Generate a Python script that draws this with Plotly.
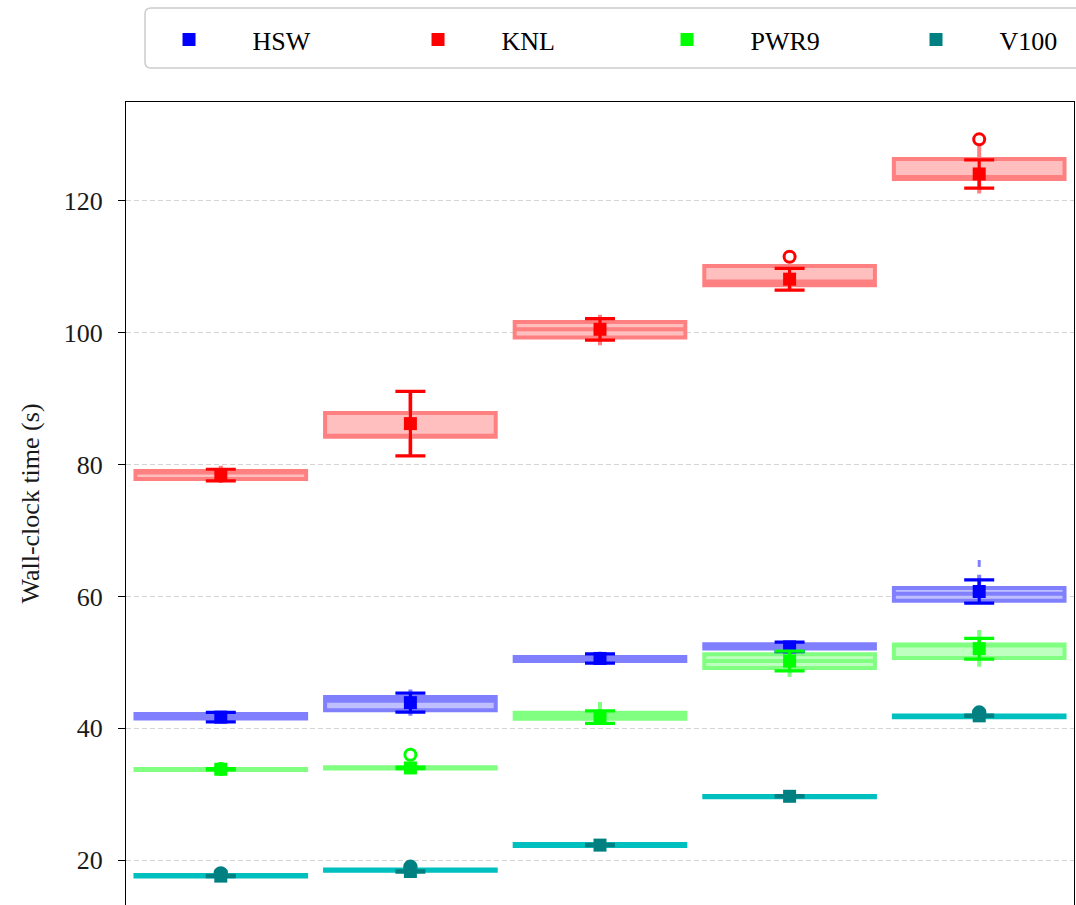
import plotly.graph_objects as go

# x positions of the five benchmark configurations
groups = [0, 1, 2, 3, 4]

# ---- HSW ----
hsw_q1 = [41.50, 42.75, 50.20, 52.10, 59.35]
hsw_med = [41.80, 44.20, 50.50, 52.40, 60.40]
hsw_q3 = [42.18, 44.76, 50.80, 52.75, 61.28]
hsw_lo = [41.10, 41.90, 49.90, 51.70, 58.90]
hsw_hi = [42.40, 45.90, 51.60, 53.10, 63.30]
hsw_mean = [41.70, 43.90, 50.60, 52.35, 60.75]
hsw_std = [0.72, 1.43, 0.70, 0.72, 1.77]
hsw_out_x = [4]
hsw_out_y = [65.0]

# ---- KNL ----
knl_q1 = [77.80, 84.20, 99.24, 107.17, 123.30]
knl_med = [78.80, 84.35, 100.50, 107.75, 123.60]
knl_q3 = [79.00, 87.80, 101.60, 110.10, 126.30]
knl_lo = [77.20, 81.50, 98.10, 106.50, 121.10]
knl_hi = [79.80, 91.00, 102.70, 110.10, 128.30]
knl_mean = [78.40, 86.20, 100.50, 108.10, 124.05]
knl_std = [0.88, 4.90, 1.63, 1.65, 2.15]
knl_out_x = [3, 4]
knl_out_y = [111.5, 129.3]

# ---- PWR9 ----
pwr9_q1 = [33.70, 33.90, 41.45, 49.15, 50.67]
pwr9_med = [33.78, 34.00, 41.90, 50.20, 52.60]
pwr9_q3 = [33.85, 34.10, 42.35, 51.24, 52.70]
pwr9_lo = [33.60, 33.80, 40.80, 47.80, 49.35]
pwr9_hi = [33.90, 34.20, 44.00, 51.70, 54.90]
pwr9_mean = [33.80, 34.00, 41.70, 50.20, 52.08]
pwr9_std = [0.10, 0.12, 0.95, 1.50, 1.57]
pwr9_out_x = [0, 1]
pwr9_out_y = [33.85, 36.0]

# ---- V100 ----
v100_q1 = [17.55, 18.40, 22.15, 29.55, 41.70]
v100_med = [17.65, 18.50, 22.30, 29.65, 41.83]
v100_q3 = [17.75, 18.60, 22.45, 29.75, 41.95]
v100_lo = [17.55, 18.40, 22.15, 29.55, 41.70]
v100_hi = [17.75, 18.60, 22.45, 29.75, 41.95]
v100_mean = [17.60, 18.30, 22.30, 29.70, 41.90]
v100_std = [0.10, 0.10, 0.10, 0.10, 0.10]
v100_out_x = [0, 1, 4]
v100_out_y = [18.0, 19.0, 42.4]

y_ticks = [20, 40, 60, 80, 100, 120]

FONT = "Liberation Serif"

series = [
    dict(name="HSW", color="#0000ff", edge="#8080ff", fill="#bfbfff",
         q1=hsw_q1, med=hsw_med, q3=hsw_q3, lo=hsw_lo, hi=hsw_hi,
         mean=hsw_mean, std=hsw_std, ox=hsw_out_x, oy=hsw_out_y,
         flier=dict(symbol="line-ns", size=5, color="#8080ff",
                    line=dict(color="#8080ff", width=3))),
    dict(name="KNL", color="#ff0000", edge="#ff8080", fill="#ffbfbf",
         q1=knl_q1, med=knl_med, q3=knl_q3, lo=knl_lo, hi=knl_hi,
         mean=knl_mean, std=knl_std, ox=knl_out_x, oy=knl_out_y,
         flier=dict(symbol="circle-open", size=11, color="#ff0000",
                    line=dict(color="#ff0000", width=3))),
    dict(name="PWR9", color="#00ff00", edge="#80ff80", fill="#bfffbf",
         q1=pwr9_q1, med=pwr9_med, q3=pwr9_q3, lo=pwr9_lo, hi=pwr9_hi,
         mean=pwr9_mean, std=pwr9_std, ox=pwr9_out_x, oy=pwr9_out_y,
         flier=dict(symbol="circle-open", size=11, color="#00ff00",
                    line=dict(color="#00ff00", width=3))),
    dict(name="V100", color="#008080", edge="#00bfbf", fill="#00bfbf",
         q1=v100_q1, med=v100_med, q3=v100_q3, lo=v100_lo, hi=v100_hi,
         mean=v100_mean, std=v100_std, ox=v100_out_x, oy=v100_out_y,
         flier=dict(symbol="circle-open", size=9, color="#008080",
                    line=dict(color="#008080", width=5.5))),
]

fig = go.Figure()

# boxes (drawn beneath the scatter layers)
for s in series:
    fig.add_trace(go.Box(
        x=groups, q1=s["q1"], median=s["med"], q3=s["q3"],
        lowerfence=s["lo"], upperfence=s["hi"],
        width=0.9, whiskerwidth=0, boxpoints=False,
        line=dict(color=s["edge"], width=4), fillcolor=s["fill"],
        showlegend=False, hoverinfo="skip",
    ))

# outliers and mean +/- std error bars
for s in series:
    fig.add_trace(go.Scatter(
        x=s["ox"], y=s["oy"], mode="markers", showlegend=False,
        marker=s["flier"], hoverinfo="skip",
    ))
    fig.add_trace(go.Scatter(
        x=groups, y=s["mean"], mode="markers", name=s["name"],
        marker=dict(symbol="square", size=13, color=s["color"]),
        error_y=dict(type="data", array=s["std"], visible=True,
                     color=s["color"], thickness=3.2, width=15),
    ))

# plot-area geometry in pixels, used for the legend frame
L, R, T, H, W = 126, 2, 102, 905, 1076
PW, PH = W - L - R, H - T


def px_x(p):
    return (p - L) / PW


def px_y(p):
    return (H - p) / PH


# rounded frame behind the legend entries
x0, x1, y0, y1, r = 145, 1120, 8, 68, 6
path = (
    f"M {px_x(x0 + r)},{px_y(y0)} L {px_x(x1)},{px_y(y0)} "
    f"L {px_x(x1)},{px_y(y1)} L {px_x(x0 + r)},{px_y(y1)} "
    f"Q {px_x(x0)},{px_y(y1)} {px_x(x0)},{px_y(y1 - r)} "
    f"L {px_x(x0)},{px_y(y0 + r)} "
    f"Q {px_x(x0)},{px_y(y0)} {px_x(x0 + r)},{px_y(y0)} Z"
)
fig.add_shape(type="path", path=path, xref="paper", yref="paper",
              line=dict(color="#cccccc", width=1.5),
              fillcolor="rgba(255,255,255,0.8)", layer="below")

fig.update_layout(
    width=W, height=H,
    margin=dict(l=L, r=R, t=T, b=0, autoexpand=False),
    paper_bgcolor="white", plot_bgcolor="white",
    boxmode="overlay",
    font=dict(family=FONT, size=26, color="black"),
    legend=dict(
        orientation="h", x=-0.0005, xanchor="left",
        y=px_y(16), yanchor="top",
        bgcolor="rgba(0,0,0,0)", borderwidth=0,
        itemwidth=117, entrywidth=117,
        font=dict(family=FONT, size=26, color="black"),
    ),
    xaxis=dict(
        range=[-0.5, 4.5], side="top", showline=True, linecolor="black",
        linewidth=1.3, mirror=False, showgrid=False, zeroline=False,
        ticks="", showticklabels=False,
    ),
    yaxis=dict(
        range=[13.22, 134.96], tickvals=y_ticks,
        showline=True, mirror=True, linecolor="black", linewidth=1.3,
        ticks="outside", ticklen=7, tickwidth=1.3, tickcolor="black",
        ticklabelstandoff=10,
        showgrid=True, gridcolor="#d4d4d4", gridwidth=1, griddash="5px,3px",
        zeroline=False,
        tickfont=dict(family=FONT, size=26, color="#1a1a1a"),
        title=dict(text="Wall-clock time (s)", standoff=16,
                   font=dict(family=FONT, size=26, color="#1a1a1a")),
    ),
)

fig.write_html("out.html")
